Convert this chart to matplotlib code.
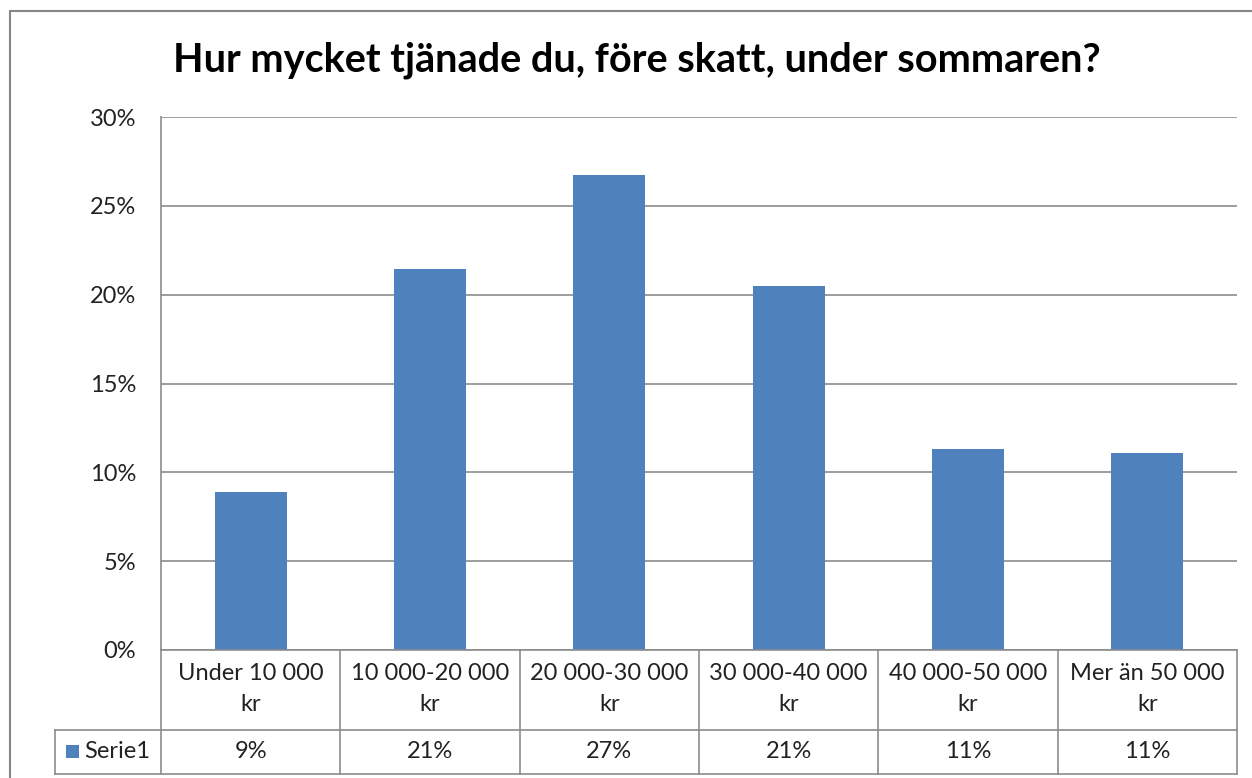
import matplotlib
matplotlib.use("Agg")
import matplotlib.pyplot as plt
from matplotlib.lines import Line2D
from matplotlib.patches import Rectangle

categories = ["Under 10 000\nkr", "10 000-20 000\nkr", "20 000-30 000\nkr",
              "30 000-40 000\nkr", "40 000-50 000\nkr", "Mer än 50 000\nkr"]
values = [0.0889, 0.2144, 0.2673, 0.2048, 0.1131, 0.1109]
value_labels = ["9%", "21%", "27%", "21%", "11%", "11%"]
series_name = "Serie1"
title = "Hur mycket tjänade du, före skatt, under sommaren?"
yticks = [0, 0.05, 0.10, 0.15, 0.20, 0.25, 0.30]
ytick_labels = ["0%", "5%", "10%", "15%", "20%", "25%", "30%"]

W, H = 1252, 778
BAR = "#4F81BD"
GRID = "#8C8C8C"
FONT = "Lato"
TXT = "#222222"
FS = 17

fig = plt.figure(figsize=(W / 100, H / 100), dpi=100)

def fx(px):
    return px / W

def fy(py):
    return 1 - py / H

# outer chart border
fig.add_artist(Rectangle((fx(10), fy(790)), fx(1262 - 10), (790 - 11) / H,
                         transform=fig.transFigure, fill=False,
                         edgecolor="#868686", linewidth=1.5))

L, R, T, B = 161, 1237, 117, 650
ax = fig.add_axes([fx(L), fy(B), fx(R - L), (B - T) / H])
x = list(range(len(categories)))
ax.bar(x, values, width=0.4, color=BAR, zorder=3)
ax.set_xlim(-0.5, len(categories) - 0.5)
ax.set_ylim(0, 0.30)
ax.set_yticks(yticks)
ax.set_yticklabels(ytick_labels, fontsize=FS, family=FONT, color=TXT)
ax.tick_params(axis="y", length=0, pad=18)
ax.set_xticks([])
ax.grid(axis="y", color=GRID, linewidth=1.2, zorder=0)
for s in ["top", "right", "bottom"]:
    ax.spines[s].set_visible(False)
ax.spines["left"].set_color(GRID)
ax.spines["left"].set_linewidth(1.2)

# data table
lc = GRID
lw = 1.2
row1_bot, row2_bot = 730, 774
leg_left = 55

def hline(x0, x1, y):
    fig.add_artist(Line2D([fx(x0), fx(x1)], [fy(y), fy(y)], transform=fig.transFigure,
                          color=lc, linewidth=lw))

def vline(xp, y0, y1):
    fig.add_artist(Line2D([fx(xp), fx(xp)], [fy(y0), fy(y1)], transform=fig.transFigure,
                          color=lc, linewidth=lw))

hline(L, R, B)
hline(leg_left, R, row1_bot)
hline(leg_left, R, row2_bot)
vline(leg_left, row1_bot, row2_bot)
cw = (R - L) / len(categories)
for i in range(len(categories) + 1):
    vline(L + i * cw, B, row2_bot)

for i, (c, v) in enumerate(zip(categories, value_labels)):
    cx = L + (i + 0.5) * cw
    fig.text(fx(cx), fy((B + row1_bot) / 2 - 1), c, ha="center", va="center",
             fontsize=FS, family=FONT, color=TXT, linespacing=1.6)
    fig.text(fx(cx), fy((row1_bot + row2_bot) / 2), v, ha="center", va="center",
             fontsize=FS, family=FONT, color=TXT)

# legend key in table
fig.add_artist(Rectangle((fx(66), fy(758)), fx(13), 13 / H, transform=fig.transFigure,
                         facecolor=BAR, edgecolor="none"))
fig.text(fx(84), fy(752), series_name, ha="left", va="center",
         fontsize=FS, family=FONT, color=TXT)

fig.text(fx(637), fy(60), title, ha="center", va="center",
         fontsize=28.5, family=FONT, fontweight="bold", color="black")

fig.savefig("out.png", dpi=100)
